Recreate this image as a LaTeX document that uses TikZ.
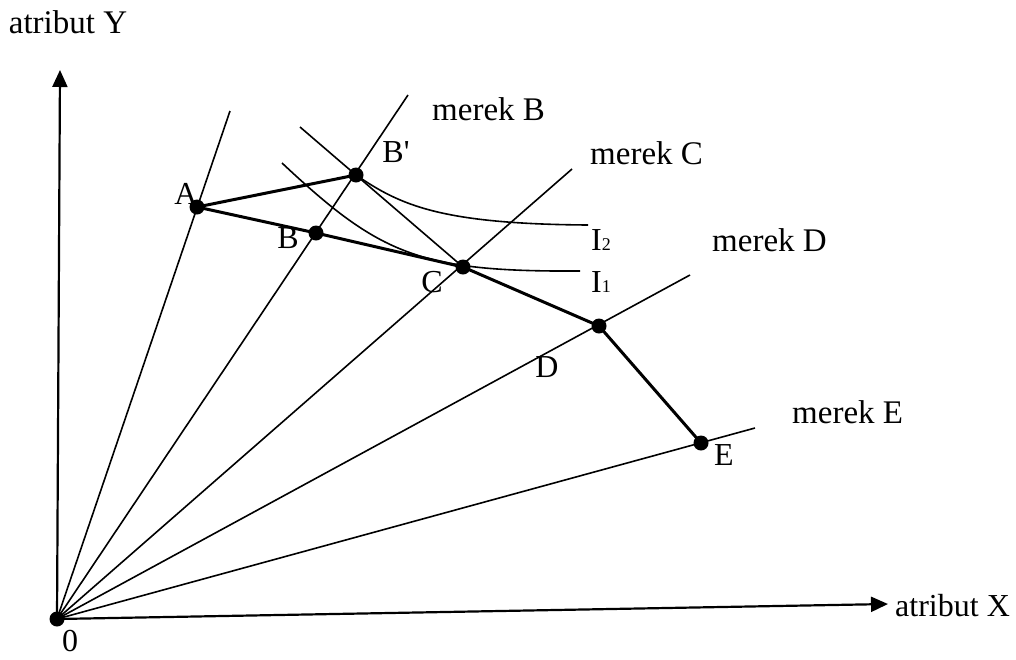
\documentclass[tikz,border=0pt]{standalone}
\usepackage{fontspec}
\setmainfont{Liberation Serif}
\newfontfamily\rawserif{Liberation Serif}[Ligatures=TeXOff]
\usetikzlibrary{arrows.meta}
\begin{document}
\begin{tikzpicture}[x=1pt,y=-1pt,
  ray/.style={line width=1.6pt},
  path/.style={line width=3pt,line join=round},
  curve/.style={line width=1.6pt},
  axis/.style={line width=2.2pt,-{Triangle[length=17pt,width=15pt]}},
  dot/.style={circle,fill=black,inner sep=0pt,minimum size=15pt},
  lab/.style={font=\fontsize{32}{38}\selectfont,inner sep=0pt},
  brand/.style={font=\fontsize{33}{38}\selectfont,inner sep=0pt,anchor=west}]
\useasboundingbox (0,0) rectangle (1016,659);

% origin, axis tips and brand points
\coordinate (O)  at (57,619);
\coordinate (Yt) at (60,70);
\coordinate (Xt) at (888,604);
\coordinate (A)  at (197,207);
\coordinate (Bp) at (356,175);
\coordinate (B)  at (316,233);
\coordinate (C)  at (463,267);
\coordinate (D)  at (599,326);
\coordinate (E)  at (701,443);

% free ends of the brand rays
\coordinate (rA) at (230,111);
\coordinate (rB) at (408,95);
\coordinate (rC) at (572,169);
\coordinate (rD) at (690,275);
\coordinate (rE) at (755,428);
\coordinate (L0) at (300,127);

% axes
\draw[axis] (O) -- (Yt);
\draw[axis] (O) -- (Xt);

% brand rays
\draw[ray] (O) -- (rA);
\draw[ray] (O) -- (rB);
\draw[ray] (O) -- (rC);
\draw[ray] (O) -- (rD);
\draw[ray] (O) -- (rE);

% budget line and indifference curves
\draw[ray] (L0) -- (C);
\draw[curve] (282,163) .. controls (380,255) and (420,272) .. (580,271);
\draw[curve] (Bp) .. controls (400,205) and (440,224) .. (588,225);

% efficient frontier
\draw[path] (A) -- (B) -- (C) -- (D) -- (E);
\draw[path] (A) -- (Bp);

% points
\foreach \p in {O,A,Bp,B,C,D,E}
  \node[dot] (d\p) at (\p) {};

% labels
\node[brand,anchor=center] (ly) at (68,22) {atribut Y};
\node[lab,anchor=west] (lx) at (895,606) {atribut X};
\node[lab] (l0) at (70,641) {0};
\node[lab] (lA) at (186,194) {A};
\node[lab] (lBp) at (396,152) {{\rawserif B'}};
\node[lab] (lB) at (288,238) {B};
\node[lab] (lC) at (432,282) {C};
\node[lab] (lD) at (547,367) {D};
\node[lab] (lE) at (724,455) {E};
\node[lab,anchor=west] (lI2) at (591,240) {I{\fontsize{18}{20}\selectfont 2}};
\node[lab,anchor=west] (lI1) at (591,282) {I{\fontsize{18}{20}\selectfont 1}};
\node[brand] (mB) at (432,109) {merek B};
\node[brand] (mC) at (590,153) {merek C};
\node[brand] (mD) at (712,240) {merek D};
\node[brand] (mE) at (792,412) {merek E};
\end{tikzpicture}
\end{document}
